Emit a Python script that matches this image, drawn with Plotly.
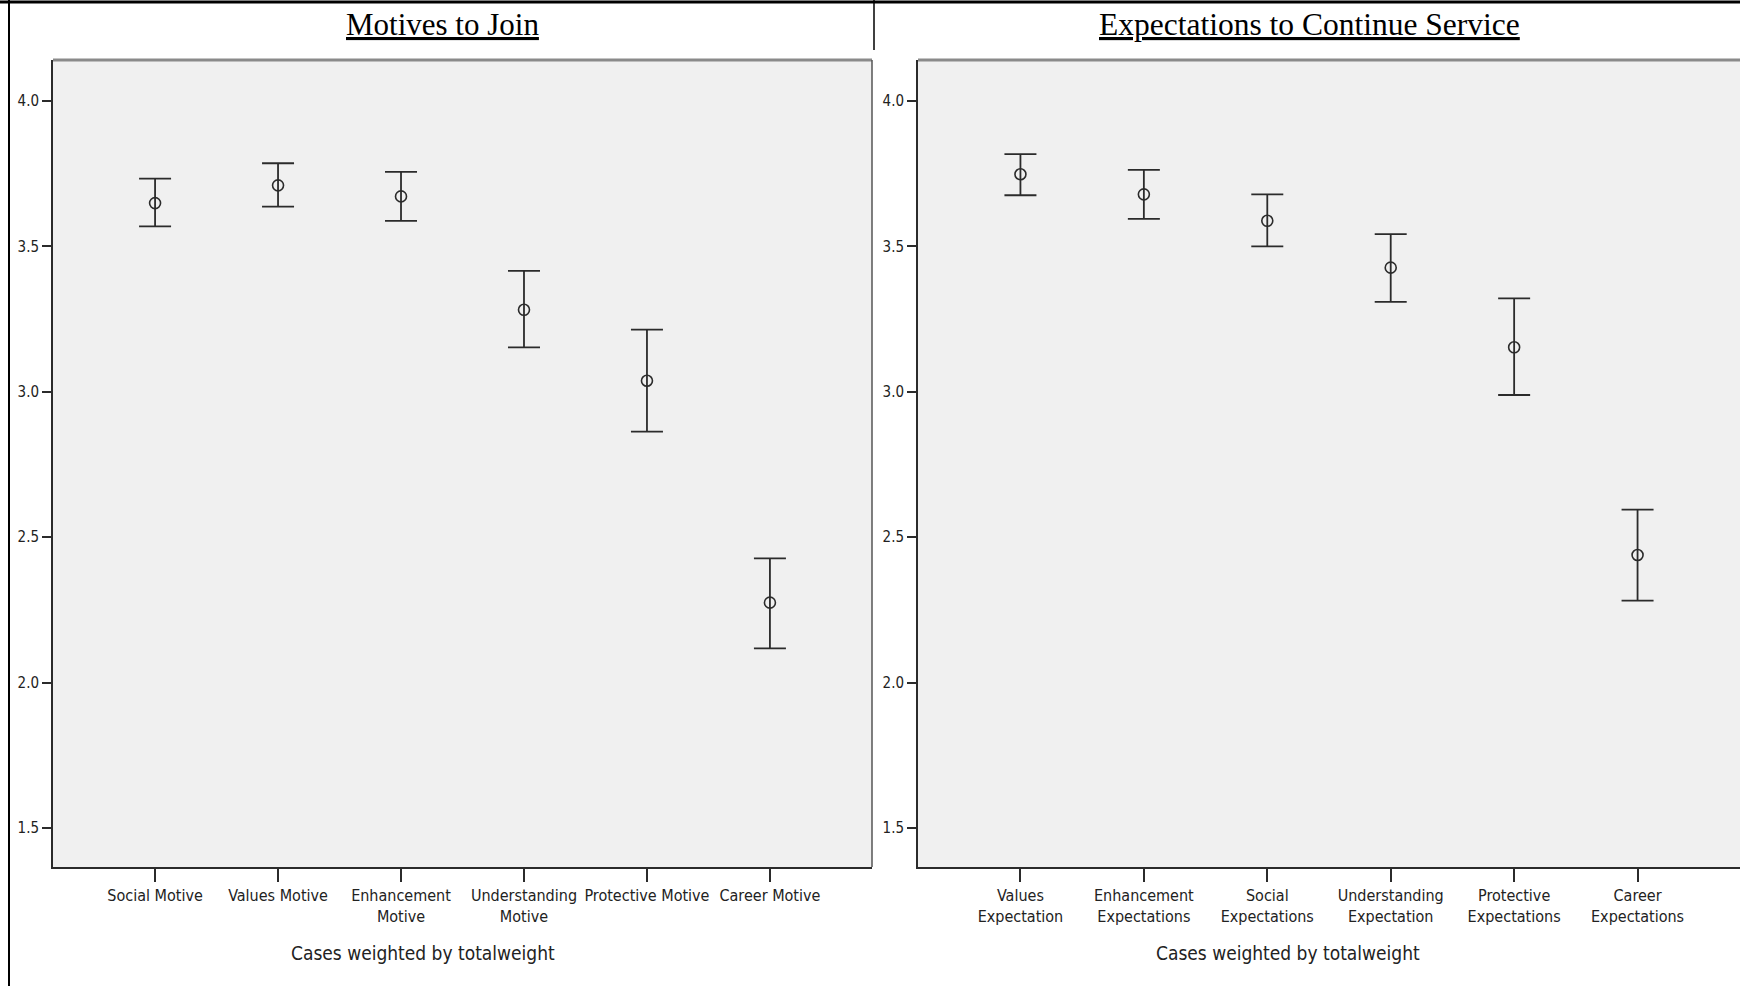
import plotly.graph_objects as go

# ---- data ----
motive_labels = ["Social Motive", "Values Motive", "Enhancement<br>Motive",
                 "Understanding<br>Motive", "Protective Motive", "Career Motive"]
motive_mean = [3.649, 3.710, 3.672, 3.282, 3.038, 2.275]
motive_upper = [3.733, 3.786, 3.756, 3.416, 3.214, 2.427]
motive_lower = [3.569, 3.637, 3.588, 3.153, 2.863, 2.118]

expect_labels = ["Values<br>Expectation", "Enhancement<br>Expectations", "Social<br>Expectations",
                 "Understanding<br>Expectation", "Protective<br>Expectations", "Career<br>Expectations"]
expect_mean = [3.748, 3.679, 3.588, 3.427, 3.153, 2.439]
expect_upper = [3.817, 3.763, 3.679, 3.542, 3.321, 2.595]
expect_lower = [3.676, 3.595, 3.500, 3.309, 2.989, 2.282]

y_ticks = [1.5, 2.0, 2.5, 3.0, 3.5, 4.0]
titles = ["Motives to Join", "Expectations to Continue Service"]
x_title = "Cases weighted by totalweight"

W, H = 1740, 986
NARROW = "Liberation Sans Narrow, DejaVu Sans Condensed, Arial Narrow, sans-serif"
INK = "#2b2b2b"

def px(x):
    return x / W

def py(y):
    return 1 - y / H

fig = go.Figure()

def add_panel(labels, mean, upper, lower, xa, ya):
    xs = list(range(len(labels)))
    fig.add_trace(go.Scatter(
        x=xs, y=mean, mode="markers", xaxis=xa, yaxis=ya, showlegend=False,
        marker=dict(symbol="circle-open", size=11, color=INK, line=dict(width=1.6, color=INK)),
        error_y=dict(type="data", symmetric=False,
                     array=[u - m for u, m in zip(upper, mean)],
                     arrayminus=[m - l for m, l in zip(mean, lower)],
                     color=INK, thickness=1.8, width=16),
    ))

add_panel(motive_labels, motive_mean, motive_upper, motive_lower, "x", "y")
add_panel(expect_labels, expect_mean, expect_upper, expect_lower, "x2", "y2")

ydom = [py(867), py(60)]
yrange = [1.366, 4.141]
xrange = [-0.83, 5.83]

common_x = dict(range=xrange, showgrid=False, zeroline=False, showline=True,
                linecolor=INK, linewidth=2, ticks="outside", ticklen=13, tickwidth=1.5,
                tickcolor=INK, tickmode="array", tickvals=list(range(6)),
                tickfont=dict(family=NARROW, size=16, color="#222"))
common_y = dict(range=yrange, domain=ydom, showgrid=False, zeroline=False, showline=True,
                linecolor=INK, linewidth=2, ticks="outside", ticklen=9, tickwidth=2,
                tickcolor=INK, tickmode="array", tickvals=y_ticks,
                ticktext=[f"{v:.1f}" for v in y_ticks],
                tickfont=dict(family=NARROW, size=15, color="#222"))

fig.update_layout(
    width=W, height=H, margin=dict(l=0, r=0, t=0, b=0),
    paper_bgcolor="white", plot_bgcolor="#F0F0F0",
    xaxis=dict(domain=[px(53), px(872)], ticktext=motive_labels, anchor="y", **common_x),
    yaxis=dict(anchor="x", **common_y),
    xaxis2=dict(domain=[px(918), 1.0], ticktext=expect_labels, anchor="y2", **common_x),
    yaxis2=dict(anchor="x2", **common_y),
)

shapes = [
    # outer table borders
    dict(type="line", xref="paper", yref="paper", x0=0, x1=1, y0=py(2), y1=py(2),
         line=dict(color="black", width=3)),
    dict(type="line", xref="paper", yref="paper", x0=px(9), x1=px(9), y0=py(0), y1=0,
         line=dict(color="black", width=2)),
    dict(type="line", xref="paper", yref="paper", x0=px(874), x1=px(874), y0=1, y1=py(50),
         line=dict(color="black", width=1.5)),
    # panel frames: top and right edges
    dict(type="line", xref="paper", yref="paper", x0=px(53), x1=px(872), y0=py(60), y1=py(60),
         line=dict(color="#8a8a8a", width=3)),
    dict(type="line", xref="paper", yref="paper", x0=px(872), x1=px(872), y0=py(60), y1=py(867),
         line=dict(color="#555555", width=1.5)),
    dict(type="line", xref="paper", yref="paper", x0=px(918), x1=1, y0=py(60), y1=py(60),
         line=dict(color="#8a8a8a", width=3)),
]
fig.update_layout(shapes=shapes)

annotations = [
    dict(text="<u>" + titles[0] + "</u>", x=px(442), y=py(25), xref="paper", yref="paper",
         showarrow=False, xanchor="center", yanchor="middle",
         font=dict(family="Liberation Serif, Times New Roman, serif", size=31, color="black")),
    dict(text="<u>" + titles[1] + "</u>", x=px(1309), y=py(25), xref="paper", yref="paper",
         showarrow=False, xanchor="center", yanchor="middle",
         font=dict(family="Liberation Serif, Times New Roman, serif", size=31.5, color="black")),
    dict(text=x_title, x=px(423), y=py(953), xref="paper", yref="paper",
         showarrow=False, xanchor="center", yanchor="middle",
         font=dict(family=NARROW, size=19, color="#222")),
    dict(text=x_title, x=px(1288), y=py(953), xref="paper", yref="paper",
         showarrow=False, xanchor="center", yanchor="middle",
         font=dict(family=NARROW, size=19, color="#222")),
]
fig.update_layout(annotations=annotations)

fig.write_html("out.html", config={"displayModeBar": False},
               post_script="document.body.style.margin='0';document.body.style.overflow='hidden';")
